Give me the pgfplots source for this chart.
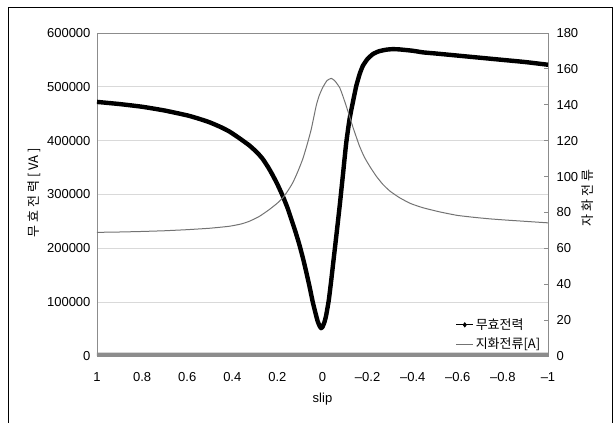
\documentclass[border=0pt]{standalone}
\usepackage{pgfplots}
\pgfplotsset{compat=1.18}
\usepackage{fontspec}
\setmainfont{Liberation Sans}
\newfontfamily\kr{Noto Sans CJK KR}
\begin{document}
\begin{tikzpicture}[x=1pt,y=1pt]
\path[use as bounding box] (0,0) rectangle (616,423);
\draw[black, line width=0.9pt] (8.7,0) -- (8.7,415.7) -- (612.3,415.7) -- (612.3,0);
\begin{axis}[
  scale only axis, width=451pt, height=323pt,
  at={(97pt,67pt)}, anchor=south west,
  xmin=-1, xmax=1, x dir=reverse, ymin=0, ymax=600000,
  scaled y ticks=false,
  xtick={1,0.8,0.6,0.4,0.2,0,-0.2,-0.4,-0.6,-0.8,-1},
  xticklabels={1,0.8,0.6,0.4,0.2,0,–0.2,–0.4,–0.6,–0.8,–1},
  ytick={0,100000,200000,300000,400000,500000,600000},
  yticklabels={0,100000,200000,300000,400000,500000,600000},
  major tick length=0pt,
  axis line style={black!45, line width=0.8pt},
  ymajorgrids, grid style={black!15, line width=0.8pt},
  ticklabel style={font=\fontsize{13}{15}\selectfont},
  xticklabel style={yshift=-13pt},
  yticklabel style={xshift=-3pt},
  xlabel={slip}, ylabel={\kr 무 효 전 력 [ VA ]},
  label style={font=\fontsize{13}{15}\selectfont},
  xlabel style={yshift=-4pt},
  ylabel style={xshift=2pt},
  clip=false,
]
\addplot[draw=none, fill=black!45] coordinates {(1,0) (-1,0) (-1,6500) (1,6500)} \closedcycle;
\addplot[black, line width=4.4pt, line join=round, smooth, tension=0.3] coordinates {
(1,472000) (0.9,468000) (0.8,463000) (0.7,456000) (0.6,447000) (0.55,441000)
(0.5,434000) (0.45,425000) (0.413,417000) (0.37,405000) (0.324,391000)
(0.29,378000) (0.265,366000) (0.24,350000) (0.221,336000) (0.2,319000)
(0.176,297000) (0.155,275000) (0.139,255000) (0.12,231000) (0.102,206000)
(0.085,179000) (0.072,156000) (0.057,128000) (0.043,100000) (0.03,78000)
(0.021,64000) (0.012,55000) (0.006,51600) (0.0,54000) (-0.008,62000)
(-0.016,75000) (-0.028,104000) (-0.039,141600) (-0.05,182000) (-0.061,222000)
(-0.076,278000) (-0.09,334000) (-0.105,395000) (-0.12,440000)
(-0.135,472000) (-0.15,502000) (-0.165,524000) (-0.179,539000)
(-0.2,552000) (-0.224,561000) (-0.25,566000) (-0.283,569000)
(-0.31,570000) (-0.342,569500) (-0.4,567000) (-0.446,564000)
(-0.5,562000) (-0.6,558000) (-0.7,554000) (-0.8,550000) (-0.9,546000)
(-1,541000)};
\end{axis}
\begin{axis}[
  scale only axis, width=451pt, height=323pt,
  at={(97pt,67pt)}, anchor=south west,
  xmin=-1, xmax=1, x dir=reverse, ymin=0, ymax=180,
  hide x axis,
  axis y line*=right,
  axis line style={draw=none},
  ytick={0,20,40,60,80,100,120,140,160,180},
  /pgf/number format/assume math mode=true,
  ytick style={black!45, line width=0.8pt},
  tick align=inside, major tick length=4pt,
  ticklabel style={font=\fontsize{13}{15}\selectfont},
  yticklabel style={xshift=5pt},
  ylabel={\kr 자 화 전 류},
  every axis y label/.style={at={(rel axis cs:1,0.49)}, anchor=south, rotate=90,
    xshift=0pt, yshift=0pt},
  ylabel style={font=\fontsize{13}{15}\selectfont, yshift=-49pt},
  legend style={at={(rel axis cs:0.99,0.008)}, anchor=south east, draw=none, fill=none,
    font=\kr\fontsize{13}{15}\selectfont, row sep=3pt, inner sep=1pt},
  legend cell align=left,
  legend image post style={line width=0.9pt},
]
\addlegendimage{black, mark=diamond*, mark size=2pt}
\addlegendentry{무효전력}
\addplot[black!55, line width=1pt, smooth, tension=0.3] coordinates {
(1,68.9) (0.9,69.1) (0.8,69.4) (0.7,69.8) (0.6,70.4) (0.5,71.2) (0.413,72.3)
(0.36,73.6) (0.324,75.1) (0.28,77.8) (0.236,81.6) (0.2,85.2) (0.176,88.2)
(0.155,91.8) (0.132,96.5) (0.11,102.6) (0.088,109.6) (0.07,117) (0.05,126.3)
(0.028,139.4) (0.015,145) (-0.001,149.6) (-0.02,153.5) (-0.039,154.7)
(-0.055,153.3) (-0.076,149.6) (-0.09,145) (-0.105,139.4) (-0.12,133.5)
(-0.135,127.5) (-0.15,122) (-0.164,117) (-0.185,111) (-0.209,105.8)
(-0.238,100.3) (-0.268,95.6) (-0.3,91.8) (-0.342,88.2) (-0.39,85) (-0.446,82.6)
(-0.52,80.3) (-0.596,78.4) (-0.67,77.3) (-0.744,76.4) (-0.82,75.7)
(-0.892,75.1) (-1,74.2)};
\addlegendentry{지화전류[A]}
\end{axis}
\end{tikzpicture}
\end{document}
